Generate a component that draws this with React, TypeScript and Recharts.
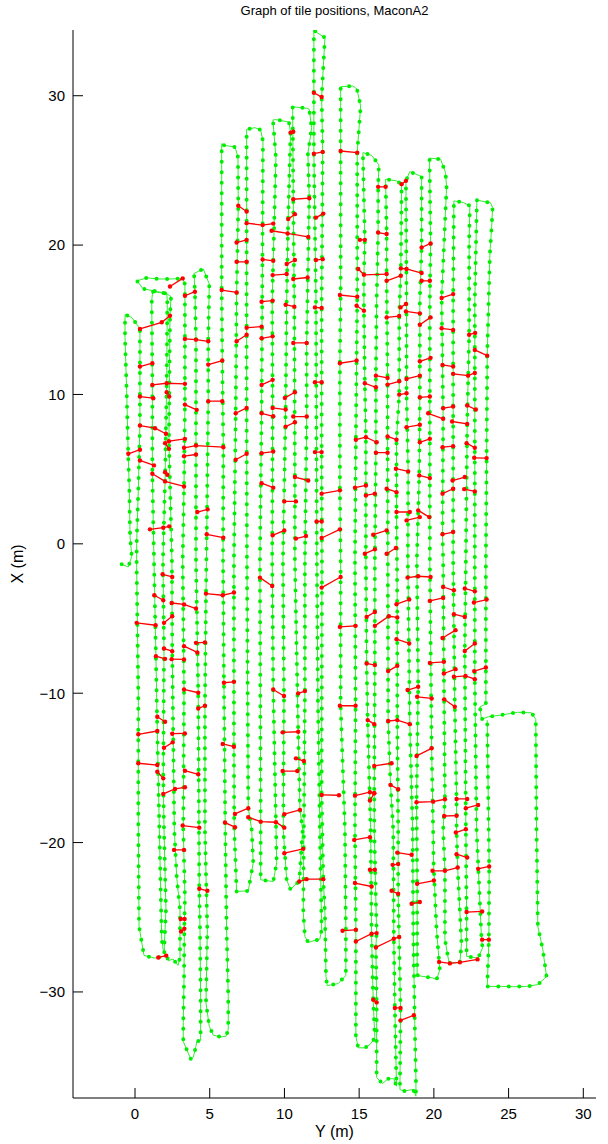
import React from 'react';
import { ComposedChart, Line, XAxis, YAxis } from 'recharts';

// horizontal axis is Y (m), vertical axis is X (m)
const yTicks = [0, 5, 10, 15, 20, 25, 30];
const xTicks = [-30, -20, -10, 0, 10, 20, 30];

// tile positions along the survey track, [Y, X] in metres (waypoints)
const greenTrack: [number, number][] = [
  [-0.89, -1.37], [-0.45, -1.55], [-0.22, -0.84], [-0.27, -0.21], [-0.33, 0.43], [-0.38, 3.58], [-0.45, 5.8], [-0.56, 10.26], [-0.67, 13.82], [-0.67, 15.34], [-0.47, 15.27], [-0.2, 15.14],
  [0.33, 14.4], [0.33, 8.05], [0.22, 3.58], [0.11, 0.03], [0.11, -1.57], [0.22, -9.99], [0.22, -18.95], [0.27, -25.61], [0.6, -27.55],
  [1.29, -27.73], [1.56, -27.69], [2.09, -27.57], [2.25, -27.91], [2.54, -27.79], [2.88, -28.22],
  [3.01, -27.71], [3.01, -24.5], [2.79, -22.29], [2.63, -19.15], [2.49, -7.12], [2.47, -1.1], [2.27, 6.92], [2.34, 15.27], [2.41, 16.54], [2.12, 16.76], [1.18, 16.88],
  [1.12, 16.28], [1.16, 10.66], [1.16, 4.71], [1.27, -1.1], [1.4, -7.52], [1.49, -12.53], [1.63, -19.15], [1.79, -26.5], [1.89, -27.17], [1.97, -27.37],
  [1.96, -26.95], [2.07, -24.5], [1.94, -19.15], [1.89, -15.68], [1.94, -7.12], [1.87, -1.1], [2.01, 4.24], [2.12, 10.73], [2.16, 16.28], [2.12, 16.76],
  [0.54, 17.08], [0.13, 17.61], [0.8, 17.81], [1.56, 17.73], [2.34, 17.73], [3.19, 17.77], [3.34, 17.39],
  [3.34, 16.61], [3.34, 13.74], [3.34, 9.32], [3.28, 3.84], [3.19, -1.1], [3.28, -9.73], [3.23, -19.15], [3.34, -23.61], [3.3, -25.84], [3.28, -29.18], [3.23, -32.05], [3.23, -33.31], [3.46, -33.86], [3.73, -34.48], [3.9, -34.37], [4.08, -33.64], [4.13, -33.31], [4.39, -33.24],
  [4.39, -30.29], [4.35, -25.84], [4.3, -23.16], [4.28, -19.15], [4.23, -9.93], [4.08, -1.1], [4.08, 5.98], [4.08, 13.67], [4.01, 16.88], [3.95, 18.1], [4.57, 18.4], [4.97, 17.39],
  [4.9, 13.6], [4.9, 9.59], [4.8, 0.64], [4.75, -3.31], [4.68, -10.86], [4.68, -19.15], [4.84, -25.84], [4.75, -30.72], [4.97, -32.3], [5.24, -32.9], [5.73, -33.01], [6.09, -32.97], [6.24, -32.52],
  [6.24, -30.29], [6.13, -25.84], [6.04, -19.15], [5.95, -9.26], [5.89, -1.1], [5.91, 6.45], [5.84, 12.27], [5.8, 16.95], [5.8, 26.79], [5.95, 26.68], [6.69, 26.57], [6.89, 25.9],
  [6.91, 22.63], [6.8, 16.81], [6.74, 8.79], [6.62, -1.1], [6.62, -13.54], [6.64, -19.15], [6.74, -21.6], [6.8, -23.27], [7.58, -23.23],
  [7.91, -21.36], [7.81, -19.15], [7.58, -17.68], [7.49, -1.1], [7.47, 9.12], [7.47, 22.25], [7.47, 27.75], [8.03, 27.86], [8.41, 27.71], [8.56, 26.97],
  [8.54, 21.36], [8.51, 16.28], [8.47, 8.79], [8.36, -1.1], [8.41, -18.6], [8.41, -22.49], [9.25, -22.61],
  [9.48, -21.36], [9.43, -18.62], [9.25, -9.73], [9.18, -1.1], [9.21, 9.12], [9.18, 16.28], [9.43, 25.84], [9.23, 28.38], [9.43, 28.4], [10.3, 28.24], [10.41, 27.53],
  [10.25, 21.76], [10.15, 16.28], [10.08, 8.99], [9.9, -1.1], [9.97, -10.19], [9.92, -19.15], [10.15, -22.49], [10.41, -23.16], [10.7, -22.83], [10.99, -22.61],
  [11.22, -19.15], [11.04, -17.81], [10.92, -12.58], [10.7, -1.1], [10.7, 4.47], [10.66, 15.88], [10.59, 23.09], [10.55, 29.26], [11.49, 29.16], [11.66, 29.09],
  [11.82, 27.86], [11.57, 26.1], [11.66, 23.16], [11.49, 13.47], [11.49, 8.52], [11.37, -1.1], [11.37, -9.86], [11.26, -24.7], [11.37, -26.28], [11.59, -26.68], [12.37, -26.46],
  [12.49, -25.84], [12.37, -19.15], [12.24, -10.46], [12.17, -1.1], [12.11, 16.28], [11.97, 26.12], [11.97, 34.37], [12.71, 33.88],
  [12.49, 29.91], [12.56, 26.24], [12.49, 16.28], [12.49, 6.14], [12.51, -1.1], [12.49, -16.81], [12.6, -22.43], [12.71, -24.7], [12.78, -28.96], [12.86, -29.58], [13.6, -29.44], [14.11, -28.89],
  [14.11, -25.84], [14.05, -19.15], [13.76, -10.8], [13.76, -1.1], [13.71, 3.58], [13.71, 12.13], [13.76, 16.61], [13.76, 26.3], [13.76, 30.6], [14.58, 30.65], [14.85, 30.45], [15.1, 29.31],
  [14.87, 26.19], [14.87, 16.54], [14.78, 6.98], [14.72, -1.1], [14.76, -10.84], [14.72, -19.15], [14.78, -25.84], [14.78, -32.97], [14.94, -33.74], [15.38, -33.74], [15.72, -33.52], [16.05, -33.08],
  [15.94, -30.52], [15.83, -26.1], [15.77, -19.15], [15.57, -11.8], [15.5, -7.99], [15.45, -1.1], [15.45, 7.12], [15.38, 10.73], [15.32, 15.61], [15.32, 18.01], [15.38, 20.35], [15.25, 26.19], [15.5, 26.12], [15.85, 25.99], [16.32, 25.37],
  [16.27, 23.9], [16.27, 20.84], [16.17, 16.28], [16.12, 11.26], [16.12, 6.12], [16.05, -1.1], [16.05, -8.12], [16.01, -16.68], [16.01, -19.15], [16.17, -26.03], [16.12, -27.02], [16.17, -30.7], [16.17, -34.53], [16.17, -35.73], [16.57, -36.13], [16.94, -35.81], [17.32, -35.81], [17.5, -36.31],
  [17.39, -31.05], [17.32, -26.44], [17.28, -19.15], [17.1, -16.14], [16.94, -11.86], [16.92, -1.1], [16.9, 7.19], [16.9, 11.13], [16.84, 17.61], [16.84, 20.76], [16.77, 24.41], [17.5, 24.3], [17.84, 24.08],
  [17.79, 18.44], [17.68, 15.27], [17.68, 9.99], [17.5, 6.99], [17.5, 2.13], [17.53, -1.1], [17.55, -4.91], [17.55, -11.8], [17.61, -19.15], [17.61, -23.43], [17.77, -31.07], [17.73, -36.53], [17.95, -36.64], [18.62, -36.53], [18.8, -36.98],
  [18.8, -35.86], [18.73, -32.52], [18.62, -25.84], [18.58, -19.15], [18.39, -12.07], [18.26, -1.1], [18.28, 4.85], [18.17, 10.08], [18.17, 16.28], [18.13, 24.3], [18.39, 24.92], [19.18, 24.59],
  [19.18, 19.84], [19.06, 16.28], [19.06, 9.81], [19.02, 4.58], [18.86, -1.1], [18.95, -9.57], [18.84, -17.28], [18.88, -22.76], [18.88, -28.84], [18.95, -28.91], [19.91, -29.06], [20.18, -29.18], [20.4, -28.51], [20.35, -27.95],
  [20.18, -25.84], [19.98, -21.38], [19.95, -19.15], [19.85, -13.67], [19.73, -1.1], [19.73, 9.86], [19.73, 16.28], [19.78, 20.11], [19.71, 25.82], [20.45, 25.75], [20.78, 24.85],
  [20.85, 23.85], [20.52, 16.48], [20.58, 12.0], [20.62, 8.39], [20.58, 0.64], [20.62, -1.1], [20.67, -8.66], [20.74, -17.08], [20.62, -19.15], [20.74, -21.89], [20.74, -26.5], [21.02, -28.06], [21.74, -28.02],
  [21.85, -26.76], [21.59, -21.65], [21.52, -19.15], [21.52, -17.08], [21.4, -10.86], [21.29, -1.1], [21.29, 9.19], [21.29, 16.28], [21.34, 22.96], [21.96, 22.85], [22.41, 22.63],
  [22.36, 20.28], [22.36, 14.0], [22.23, 8.05], [22.14, -1.1], [22.07, -7.12], [22.14, -19.15], [22.19, -24.63], [22.19, -27.62], [22.96, -27.73],
  [23.26, -27.04], [23.19, -26.5], [22.86, -19.15], [22.74, -9.06], [22.74, -1.1], [22.74, 6.45], [22.74, 13.0], [22.74, 16.28], [22.88, 23.01], [23.79, 22.83], [23.93, 22.51],
  [23.86, 21.09], [23.75, 19.42], [23.68, 16.74], [23.57, 12.6], [23.53, 5.74], [23.48, -1.1], [23.48, -8.26], [23.48, -10.73], [23.08, -10.91], [23.19, -11.75], [23.63, -11.58], [24.53, -11.46], [25.6, -11.28], [26.54, -11.31], [26.82, -11.75],
  [26.87, -19.15], [26.96, -25.61], [27.29, -27.17], [27.54, -28.96], [26.96, -29.51], [26.2, -29.63], [25.35, -29.65], [24.53, -29.63], [23.57, -29.63],
  [23.63, -28.04], [23.68, -26.5], [23.7, -21.6], [23.57, -11.8],
];

// links between tiles, each chain is Y1, X1, Y2, X2, ...
const redLinks: number[][] = [
  [11.97, 30.2, 12.49, 29.91], [10.41, 27.53, 10.59, 27.59], [13.76, 26.3, 14.87, 26.19], [11.97, 26.12, 12.56, 26.24],
  [16.27, 23.9, 16.77, 23.9], [17.84, 24.08, 18.13, 24.3], [10.59, 23.07, 11.66, 23.14], [10.25, 21.74, 10.7, 22.07],
  [12.11, 21.84, 12.6, 22.11], [6.91, 22.63, 7.47, 22.25], [7.47, 21.47, 8.54, 21.34, 9.25, 21.44], [6.8, 20.17, 7.47, 20.35],
  [9.14, 20.96, 10.21, 20.78, 11.59, 20.55], [15.05, 20.35, 15.38, 20.35], [16.27, 20.84, 16.84, 20.74], [8.54, 19.04, 9.25, 18.95],
  [10.15, 18.73, 10.7, 19.0], [12.11, 19.0, 12.56, 19.06], [6.8, 18.88, 7.47, 18.88], [14.94, 18.4, 15.32, 18.01, 16.84, 18.06],
  [16.84, 17.61, 17.79, 17.95], [17.79, 18.44, 18.17, 18.4, 19.18, 18.13], [9.21, 17.99, 10.15, 18.06], [10.59, 17.73, 11.55, 17.83],
  [13.71, 16.66, 14.87, 16.54], [5.8, 16.99, 6.8, 16.83], [2.34, 17.23, 3.19, 17.77], [3.34, 16.61, 4.01, 16.88],
  [19.18, 19.84, 19.78, 20.11], [19.18, 17.61, 19.73, 17.61], [20.52, 16.46, 21.29, 16.72],
  [0.33, 14.39, 1.79, 14.83, 2.34, 15.27], [3.34, 13.72, 4.08, 13.67, 4.9, 13.56], [6.8, 13.56, 7.47, 14.0], [7.47, 14.47, 8.47, 14.54],
  [0.33, 11.87, 1.16, 12.09], [4.9, 12.0, 5.84, 12.27], [1.16, 10.64, 2.12, 10.75, 3.34, 10.71], [0.33, 9.86, 1.22, 9.75],
  [2.12, 10.15, 2.29, 9.86], [3.34, 9.32, 4.13, 8.97], [4.9, 9.55, 5.84, 9.55], [6.74, 8.74, 7.47, 9.1],
  [0.33, 7.92, 1.34, 7.74, 2.07, 7.37], [2.27, 6.87, 3.34, 7.03], [2.01, 6.74, 2.27, 6.36], [3.28, 6.43, 4.08, 6.58, 5.91, 6.47],
  [3.28, 5.87, 4.08, 5.98], [-0.45, 6.03, 0.33, 6.3], [0.33, 5.58, 1.27, 5.25], [6.74, 5.63, 7.47, 6.03],
  [1.16, 4.69, 2.01, 4.18, 3.28, 3.84], [2.01, 4.8, 2.16, 4.63], [4.17, 2.13, 4.86, 2.31], [1.0, 0.97, 1.89, 1.08, 2.29, 1.17],
  [4.8, 0.64, 5.91, 0.41],
  [8.47, 16.21, 9.21, 16.28], [10.08, 16.01, 10.66, 15.88], [12.04, 15.83, 12.49, 15.79], [14.83, 15.94, 15.32, 15.61],
  [16.84, 15.16, 17.68, 15.25], [17.77, 15.83, 18.13, 16.06], [18.13, 15.56, 19.06, 15.43], [8.47, 13.76, 9.21, 13.89],
  [10.59, 13.45, 11.49, 13.45], [13.71, 12.09, 14.83, 12.27], [8.47, 10.64, 9.21, 10.98], [10.03, 9.77, 10.7, 10.15],
  [12.04, 10.82, 12.49, 10.82], [15.38, 10.75, 16.12, 10.48], [16.12, 11.26, 16.9, 11.11], [16.9, 10.66, 17.68, 10.88],
  [18.17, 11.04, 19.06, 11.26], [17.68, 9.99, 18.17, 10.08], [9.21, 9.1, 10.08, 8.99], [8.47, 8.74, 9.25, 8.54],
  [10.59, 8.52, 11.49, 8.52], [10.08, 7.85, 10.7, 8.14], [18.17, 7.81, 19.06, 7.97], [14.78, 6.97, 15.45, 7.14, 16.17, 6.8],
  [16.9, 7.19, 17.5, 6.97], [12.04, 6.14, 12.49, 6.14], [8.47, 6.07, 9.25, 6.18], [16.12, 6.1, 16.9, 6.1],
  [17.46, 5.03, 18.28, 4.85], [10.7, 4.47, 11.59, 4.24], [8.47, 4.06, 9.25, 3.76], [12.49, 3.36, 13.71, 3.58],
  [14.72, 3.76, 15.45, 3.91], [15.45, 3.24, 16.05, 3.36], [16.84, 3.69, 17.5, 3.46], [9.99, 2.84, 10.77, 2.84],
  [17.5, 2.13, 18.39, 2.13], [18.17, 1.57, 19.06, 1.79], [12.15, 1.5, 12.49, 1.5], [9.21, 0.57, 9.99, 0.9],
  [10.77, 0.35, 11.44, 0.52], [12.49, 0.39, 13.71, 0.97], [15.94, 0.61, 16.84, 0.9], [15.38, -0.66, 16.05, -0.37],
  [16.84, -0.66, 17.46, -0.28],
  [19.06, 14.67, 19.78, 15.16], [20.52, 14.43, 21.29, 14.32], [22.36, 14.0, 22.76, 14.12], [22.74, 12.98, 23.57, 12.6],
  [19.06, 12.22, 19.78, 12.45], [20.58, 11.98, 21.29, 11.87], [21.29, 11.38, 22.29, 11.26, 22.74, 11.44], [19.06, 9.81, 19.73, 9.86],
  [20.62, 9.08, 21.29, 9.19], [22.23, 9.26, 22.81, 8.99], [19.62, 8.74, 20.62, 8.37], [21.22, 8.19, 22.23, 8.03],
  [19.06, 6.8, 19.73, 7.03], [20.58, 6.47, 21.29, 6.54], [22.19, 6.74, 22.74, 6.43], [22.7, 5.76, 23.53, 5.74],
  [19.02, 4.58, 19.73, 4.4], [21.25, 4.24, 22.07, 4.47], [20.58, 3.36, 21.29, 3.69], [22.03, 3.66, 22.74, 3.51],
  [18.95, 2.24, 19.69, 1.79], [20.58, 0.64, 21.29, 0.79],
  [1.85, -2.04, 2.49, -2.22], [4.75, -3.33, 5.87, -3.44, 6.62, -3.26], [1.29, -3.44, 1.89, -3.78], [2.45, -3.96, 3.28, -4.06, 4.08, -4.33],
  [0.11, -5.29, 1.38, -5.45], [1.94, -5.29, 2.49, -4.85], [4.08, -6.63, 4.68, -6.6], [1.94, -7.01, 2.49, -7.19],
  [3.28, -6.85, 4.17, -7.27], [1.4, -7.52, 2.01, -7.7], [2.45, -7.72, 3.28, -7.74], [5.95, -9.3, 6.62, -9.24],
  [3.28, -9.75, 4.23, -9.97], [4.23, -11.02, 4.68, -10.84], [1.49, -11.58, 2.01, -11.91], [0.22, -12.75, 1.49, -12.53],
  [2.49, -12.71, 3.34, -12.69], [1.94, -13.65, 2.52, -13.29], [5.87, -13.4, 6.62, -13.58], [0.22, -14.69, 1.49, -14.81],
  [1.49, -15.25, 1.89, -15.7], [3.34, -15.19, 4.23, -15.43], [1.89, -16.74, 2.68, -16.41, 3.34, -16.3], [6.69, -18.08, 7.58, -17.7],
  [6.02, -18.66, 6.69, -18.97], [3.19, -18.86, 4.3, -19.0],
  [8.36, -2.26, 9.18, -2.82], [12.49, -2.93, 13.76, -2.22], [18.24, -2.26, 18.95, -2.17, 19.78, -2.22], [17.5, -4.04, 18.35, -3.73],
  [15.5, -4.89, 16.05, -4.56], [16.05, -5.49, 16.99, -4.85, 17.55, -4.93], [13.71, -5.56, 14.76, -5.49], [17.5, -6.38, 18.35, -6.67],
  [15.5, -8.01, 16.05, -8.12], [16.94, -8.52, 17.55, -8.17], [18.24, -9.79, 18.95, -9.57], [9.25, -9.75, 9.97, -10.19],
  [10.92, -10.01, 11.37, -9.86], [13.71, -10.84, 14.76, -10.84], [15.57, -11.8, 16.01, -12.07], [16.94, -11.86, 17.55, -11.8, 18.39, -12.07],
  [9.88, -12.62, 10.92, -12.58], [10.77, -14.36, 11.3, -14.54], [9.88, -15.21, 10.86, -15.21], [16.01, -14.87, 17.17, -14.69],
  [12.49, -16.81, 13.65, -16.83], [14.72, -16.86, 15.72, -16.63, 16.01, -16.7], [15.72, -17.19, 16.01, -16.7], [17.1, -16.14, 17.61, -16.43],
  [7.58, -18.3, 8.41, -18.6, 9.43, -18.64, 9.99, -19.0], [9.99, -18.1, 11.04, -17.81], [14.67, -19.82, 15.72, -19.64],
  [18.84, -14.2, 19.85, -13.69], [18.84, -17.3, 19.95, -17.26, 20.74, -17.1],
  [20.62, -2.89, 21.34, -3.11], [22.07, -2.99, 22.74, -3.18], [19.73, -3.82, 20.62, -3.62], [22.68, -3.93, 23.53, -3.73],
  [21.34, -4.71, 22.07, -4.89], [20.58, -6.3, 21.45, -5.78], [22.07, -7.17, 22.74, -6.67], [19.73, -7.97, 20.67, -7.9],
  [20.67, -8.68, 21.45, -8.39], [21.34, -8.9, 22.12, -8.84, 22.74, -9.06], [22.7, -8.52, 23.48, -8.28], [18.88, -10.24, 19.85, -10.35],
  [20.69, -10.41, 21.4, -10.91], [21.52, -17.08, 22.23, -17.08], [22.14, -17.7, 22.96, -17.48], [20.69, -18.22, 21.52, -18.2],
  [21.47, -19.33, 22.14, -19.1],
  [2.61, -20.49, 3.28, -20.49], [4.3, -23.09, 4.84, -23.23], [3.06, -25.12, 3.32, -25.12], [3.08, -25.95, 3.3, -25.77],
  [1.56, -27.69, 2.09, -27.57],
  [9.99, -20.71, 11.26, -20.42], [10.99, -22.61, 11.48, -22.45, 12.6, -22.45], [17.55, -20.67, 18.51, -20.82], [15.72, -21.82, 16.05, -21.82],
  [17.24, -21.49, 17.61, -21.44], [14.72, -22.71, 15.83, -22.94], [17.17, -23.23, 17.61, -23.43], [18.51, -24.1, 19.06, -23.98],
  [13.89, -25.9, 14.78, -25.84], [14.78, -26.62, 15.83, -26.1, 16.17, -26.06], [16.12, -27.02, 17.32, -26.44, 17.68, -26.32], [15.94, -30.52, 16.17, -30.7],
  [17.39, -31.07, 17.77, -31.07], [17.77, -31.9, 18.66, -31.56],
  [21.52, -20.78, 22.23, -21.0], [19.91, -21.89, 20.74, -21.89, 21.59, -21.67], [22.96, -21.76, 23.7, -21.6], [18.88, -22.76, 20.0, -22.54],
  [22.19, -24.65, 23.23, -24.61], [23.23, -26.5, 23.68, -26.5], [20.35, -27.99, 21.07, -28.09, 21.74, -28.02, 22.92, -27.82],
];

const trackData = greenTrack.map(([y, x]) => ({ y, x }));

const linkData: { y: number | null; x: number | null }[] = [];
redLinks.forEach((chain) => {
  for (let i = 0; i < chain.length; i += 2) linkData.push({ y: chain[i], x: chain[i + 1] });
  linkData.push({ y: null, x: null });
});

const font = '"Liberation Sans", Arial, Helvetica, sans-serif';
const fmt = (v: number) => (v < 0 ? '\u2212' + Math.abs(v) : String(v));

const RedDot = (props: any) => {
  const { cx, cy, index } = props;
  if (typeof cx !== 'number' || typeof cy !== 'number' || isNaN(cx) || isNaN(cy)) return <g key={index} />;
  return <circle key={index} cx={cx} cy={cy} r={2.2} fill="#ff0000" />;
};

export default function App() {
  return (
    <div style={{ position: 'absolute', left: 0, top: 0, width: 608, height: 1144, background: '#fff', fontFamily: font }}>
      <div style={{ position: 'absolute', left: 73, width: 523, top: 3, textAlign: 'center', fontSize: 13, color: '#000' }}>
        Graph of tile positions, MaconA2
      </div>
      <ComposedChart width={608} height={1144} margin={{ top: 30, right: 12, bottom: 16, left: 13 }}>
        <XAxis
          type="number"
          dataKey="y"
          domain={[-4.15, 30.85]}
          ticks={yTicks}
          tickFormatter={fmt}
          allowDataOverflow
          height={30}
          tickSize={-10}
          tickMargin={20}
          axisLine={{ stroke: '#000' }}
          tickLine={{ stroke: '#000' }}
          tick={{ fill: '#000', fontSize: 15, fontFamily: font }}
        />
        <YAxis
          type="number"
          domain={[-37.1, 34.4]}
          ticks={xTicks}
          tickFormatter={fmt}
          allowDataOverflow
          width={60}
          tickSize={-10}
          tickMargin={18}
          axisLine={{ stroke: '#000' }}
          tickLine={{ stroke: '#000' }}
          tick={{ fill: '#000', fontSize: 15, fontFamily: font }}
        />
        <Line data={trackData} dataKey="x" type="linear" stroke="#33ee33" strokeWidth={1} dot={false} isAnimationActive={false} />
        <Line
          data={trackData}
          dataKey="x"
          type="linear"
          stroke="#00ee00"
          strokeWidth={4}
          strokeDasharray="0 10.5"
          strokeLinecap="round"
          dot={false}
          isAnimationActive={false}
        />
        <Line
          data={linkData}
          dataKey="x"
          type="linear"
          stroke="#ff0000"
          strokeWidth={1.3}
          connectNulls={false}
          dot={RedDot}
          activeDot={false}
          isAnimationActive={false}
        />
      </ComposedChart>
      <div style={{ position: 'absolute', left: 73, width: 523, top: 1123, textAlign: 'center', fontSize: 16, color: '#000' }}>
        Y (m)
      </div>
      <div
        style={{
          position: 'absolute',
          left: 18,
          top: 564,
          transform: 'translate(-50%, -50%) rotate(-90deg)',
          fontSize: 16,
          color: '#000',
          whiteSpace: 'nowrap',
        }}
      >
        X (m)
      </div>
    </div>
  );
}
